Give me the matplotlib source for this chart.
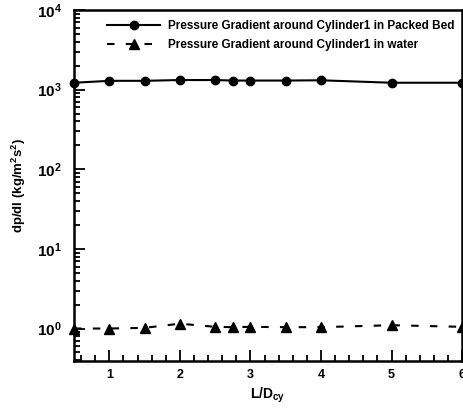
import matplotlib
matplotlib.use("Agg")
import matplotlib.pyplot as plt
from matplotlib.ticker import MultipleLocator, LogLocator, NullFormatter

plt.rcParams["font.family"] = ["Liberation Sans", "DejaVu Sans"]
plt.rcParams["font.weight"] = "bold"
plt.rcParams["mathtext.fontset"] = "custom"
plt.rcParams["mathtext.rm"] = "Liberation Sans:bold"
plt.rcParams["mathtext.it"] = "Liberation Sans:bold"
plt.rcParams["mathtext.bf"] = "Liberation Sans:bold"

# Données
l_over_d = [0.5, 1, 1.5, 2, 2.5, 2.75, 3, 3.5, 4, 5, 6]
dp_packed = [1220, 1290, 1290, 1320, 1320, 1300, 1300, 1300, 1310, 1220, 1220]
dp_water = [1.0, 1.0, 1.02, 1.15, 1.05, 1.04, 1.05, 1.04, 1.04, 1.1, 1.05]

label_packed = "Pressure Gradient around Cylinder1 in Packed Bed"
label_water = "Pressure Gradient around Cylinder1 in water"

fig = plt.figure(figsize=(4.63, 4.08), dpi=100)
ax = fig.add_axes([0.160, 0.115, 0.838, 0.8605])

ax.plot(l_over_d, dp_packed, "-", color="black", lw=1.5, marker="o", ms=6,
        clip_on=False, label=label_packed)
ax.plot(l_over_d, dp_water, color="black", lw=1.5, marker="^", ms=7,
        ls=(0, (3.6, 5.4)), clip_on=False, label=label_water)

ax.set_yscale("log")
ax.set_xlim(0.5, 6)
ax.set_ylim(0.39, 1e4)
ax.xaxis.set_major_locator(MultipleLocator(1))
ax.xaxis.set_minor_locator(MultipleLocator(0.2))
ax.yaxis.set_major_locator(LogLocator(base=10, numticks=10))
ax.yaxis.set_minor_locator(LogLocator(base=10, subs=range(2, 10), numticks=20))
ax.yaxis.set_minor_formatter(NullFormatter())

ax.tick_params(which="both", direction="in", top=False, right=False, width=1.3)
ax.tick_params(which="major", length=8)
ax.tick_params(which="minor", length=4)
ax.tick_params(axis="x", labelsize=9, pad=6)
ax.tick_params(axis="y", labelsize=11, pad=9)
for s in ax.spines.values():
    s.set_linewidth(1.8)

ax.set_xlabel("L/D$_{cy}$", fontsize=10, fontweight="bold", labelpad=3)
ax.set_ylabel("dp/dl (kg/m$^2$s$^2$)", fontsize=9.5, fontweight="bold", labelpad=6)

ax.legend(loc="upper left", bbox_to_anchor=(0.085, 0.971), frameon=False,
          fontsize=8.5, handlelength=4.5, handletextpad=0.68, labelspacing=0.55,
          borderpad=0, borderaxespad=0)

fig.savefig("out.png", dpi=100)
